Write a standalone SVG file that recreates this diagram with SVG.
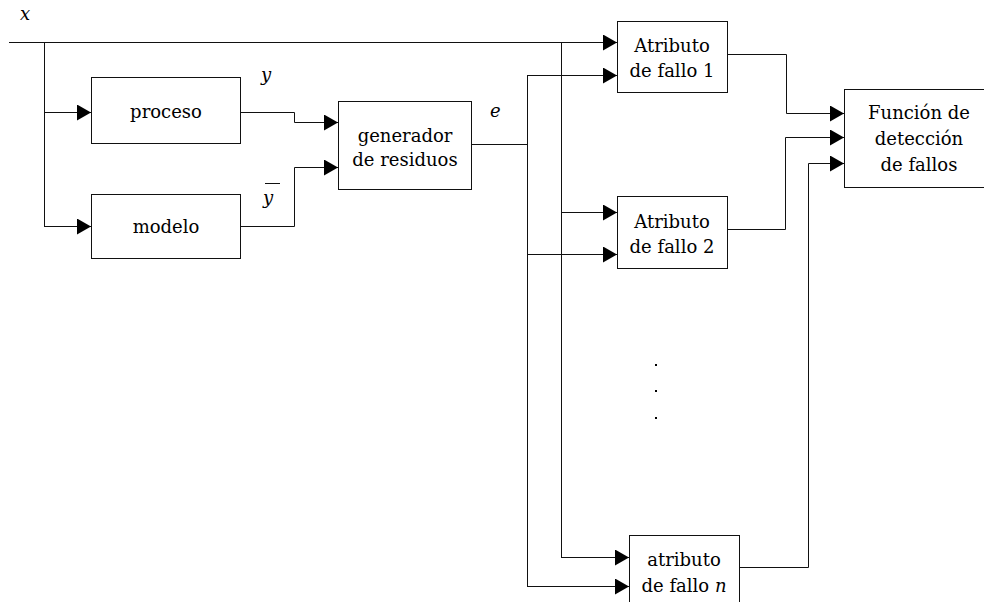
<svg xmlns="http://www.w3.org/2000/svg" width="984" height="602" viewBox="0 0 984 602">
<style>
.box{fill:#fff;stroke:#111;stroke-width:1}
.ln{fill:none;stroke:#111;stroke-width:1}
.t{font-family:"DejaVu Serif","Liberation Serif",serif;font-size:18px;fill:#000;text-anchor:middle}
.v{font-family:"DejaVu Serif","Liberation Serif",serif;font-size:18px;font-style:italic;fill:#000}
</style>
<defs>
<marker id="ah" markerWidth="14" markerHeight="16" refX="14" refY="8" orient="auto" markerUnits="userSpaceOnUse">
<path d="M0,0 L14,8 L0,16 Z" fill="#000"/>
</marker>
</defs>
<g id="connectors">
<path class="ln" d="M9,42.5 H617" marker-end="url(#ah)"/>
<path class="ln" d="M44.5,42 V226.5"/>
<path class="ln" d="M44,112.5 H91" marker-end="url(#ah)"/>
<path class="ln" d="M44,226.5 H91" marker-end="url(#ah)"/>
<path class="ln" d="M240,112.5 H294.5 V122.5 H338" marker-end="url(#ah)"/>
<path class="ln" d="M240,226.5 H294.5 V167.5 H338" marker-end="url(#ah)"/>
<path class="ln" d="M471,144.5 H527.5"/>
<path class="ln" d="M527.5,75 V586.5"/>
<path class="ln" d="M561.5,42 V557.5"/>
<path class="ln" d="M527,75.5 H617" marker-end="url(#ah)"/>
<path class="ln" d="M561,212.5 H617" marker-end="url(#ah)"/>
<path class="ln" d="M527,254.5 H617" marker-end="url(#ah)"/>
<path class="ln" d="M561,557.5 H629" marker-end="url(#ah)"/>
<path class="ln" d="M527,586.5 H629" marker-end="url(#ah)"/>
<path class="ln" d="M727,54.5 H786.5 V113.5 H844" marker-end="url(#ah)"/>
<path class="ln" d="M727,229.5 H785.5 V137.5 H844" marker-end="url(#ah)"/>
<path class="ln" d="M739,567.5 H808.5 V163.5 H844" marker-end="url(#ah)"/>
</g>
<g id="labels">
<text class="v" x="20" y="20">x</text>
<text class="v" x="261" y="81">y</text>
<text class="v" x="263" y="204">y</text>
<path class="ln" d="M265,183.5 H280" stroke-width="2"/>
<text class="v" x="490" y="117">e</text>
<rect x="655" y="364" width="2" height="2" fill="#000"/>
<rect x="655" y="390" width="2" height="2" fill="#000"/>
<rect x="655" y="417" width="2" height="2" fill="#000"/>
</g>
<g id="proceso">
<rect class="box" x="91.5" y="77.5" width="149" height="66"/>
<text class="t" x="166" y="118">proceso</text>
</g>
<g id="modelo">
<rect class="box" x="91.5" y="194.5" width="149" height="64"/>
<text class="t" x="166" y="233">modelo</text>
</g>
<g id="generador">
<rect class="box" x="338.5" y="101.5" width="133" height="88"/>
<text class="t" x="405" y="142">generador</text>
<text class="t" x="405" y="166">de residuos</text>
</g>
<g id="atributo1">
<rect class="box" x="617.5" y="21.5" width="110" height="71"/>
<text class="t" x="672" y="52">Atributo</text>
<text class="t" x="672" y="77">de fallo 1</text>
</g>
<g id="atributo2">
<rect class="box" x="617.5" y="196.5" width="110" height="72"/>
<text class="t" x="672" y="228">Atributo</text>
<text class="t" x="672" y="253">de fallo 2</text>
</g>
<g id="atributon">
<rect class="box" x="629.5" y="535.5" width="110" height="80"/>
<text class="t" x="684" y="566">atributo</text>
<text class="t" x="684" y="592">de fallo <tspan font-style="italic">n</tspan></text>
</g>
<g id="funcion">
<rect class="box" x="844.5" y="89.5" width="150" height="98"/>
<text class="t" x="919" y="119">Función de</text>
<text class="t" x="919" y="145">detección</text>
<text class="t" x="919" y="171">de fallos</text>
</g>
</svg>
